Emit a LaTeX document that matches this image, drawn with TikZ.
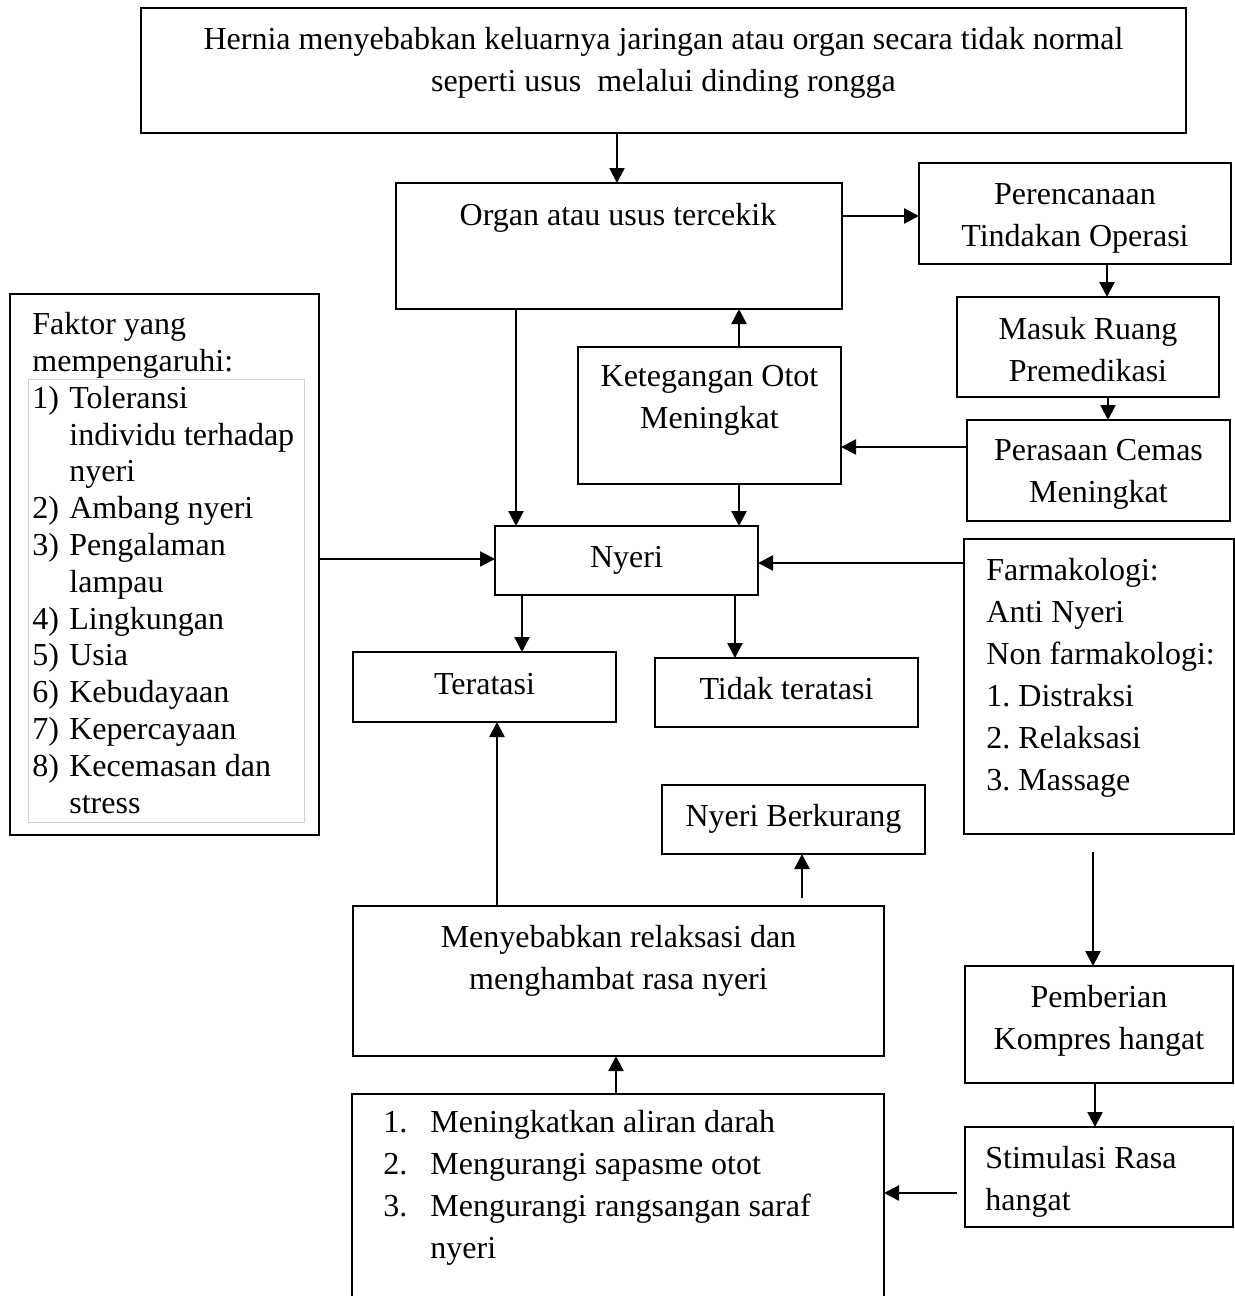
\documentclass[tikz,border=0pt]{standalone}
\usepackage{fontspec}
\setmainfont{Liberation Serif}
\usetikzlibrary{arrows.meta}
\frenchspacing
\begin{document}
\begin{tikzpicture}[x=0.5pt,y=-0.5pt,
  box/.style={draw, line width=1.2pt, inner sep=0pt, outer sep=0pt},
  txt/.style={inner sep=0pt, font=\fontsize{16}{21}\selectfont},
  arr/.style={line width=1.2pt, -{Triangle[length=7.5pt,width=7.5pt]}},
  one/.style={text height=10.5pt, text depth=3.5pt}
]
\useasboundingbox (0,0) rectangle (1235,1296);
\fill[white] (0,0) rectangle (1235,1296);
\clip (0,0) rectangle (1235,1296);

% top
\node[box, minimum width=522.5pt, minimum height=62.5pt] (hernia) at (663.5,70.5) {};
\node[txt, anchor=north, align=center] (herniaT) at (663.5,27) {Hernia menyebabkan keluarnya jaringan atau organ secara tidak normal\\seperti usus\ \ melalui dinding rongga};

\node[box, minimum width=223pt, minimum height=63pt] (organ) at (619,246) {};
\node[txt, anchor=north] (organT) at (618,203) {Organ atau usus tercekik};

\node[box, minimum width=156pt, minimum height=50.5pt] (perenc) at (1075,213.5) {};
\node[txt, anchor=north, align=center] (perencT) at (1075,183) {Perencanaan\\Tindakan Operasi};

\node[box, minimum width=131pt, minimum height=50pt] (masuk) at (1088,347) {};
\node[txt, anchor=north, align=center] (masukT) at (1088,317) {Masuk Ruang\\Premedikasi};

\node[box, minimum width=131.5pt, minimum height=50.5pt] (peras) at (1098.5,470.5) {};
\node[txt, anchor=north, align=center] (perasT) at (1098.5,439) {Perasaan Cemas\\Meningkat};

\node[box, minimum width=131.5pt, minimum height=68.5pt] (keteg) at (709.5,415.5) {};
\node[txt, anchor=north, align=center] (ketegT) at (709.5,365) {Ketegangan Otot\\Meningkat};

\node[box, txt, one, minimum width=131.5pt, minimum height=34.5pt] (nyeri) at (626.5,560.5) {Nyeri};
\node[box, txt, one, minimum width=131.5pt, minimum height=35pt] (terat) at (484.5,687) {Teratasi};
\node[box, txt, one, minimum width=131.5pt, minimum height=34.5pt] (tidak) at (786.5,692.5) {Tidak teratasi};
\node[box, txt, one, minimum width=131.5pt, minimum height=34.5pt] (nberk) at (793.5,819.5) {Nyeri Berkurang};

\node[box, minimum width=265.5pt, minimum height=75pt] (menyeb) at (618.5,981) {};
\node[txt, anchor=north, align=center] (menyebT) at (618.5,925) {Menyebabkan relaksasi dan\\menghambat rasa nyeri};

\node[box, minimum width=266pt, minimum height=113pt] (efek) at (618,1207) {};
\node[txt, anchor=north west, align=left] (efekT) at (383,1110) {\makebox[23.5pt][l]{1.}Meningkatkan aliran darah\\\makebox[23.5pt][l]{2.}Mengurangi sapasme otot\\\makebox[23.5pt][l]{3.}Mengurangi rangsangan saraf\\\hspace*{23.5pt}nyeri};

% left factors
\node[box, minimum width=154.5pt, minimum height=270.5pt] (faktor) at (164.5,564.5) {};
\node[draw=black!18, line width=0.5pt, inner sep=0pt, minimum width=138pt, minimum height=221.5pt] (faktorin) at (166,600.5) {};
\node[txt, anchor=north west, align=left, font=\fontsize{16}{18.4}\selectfont] (faktorT) at (32,312) {Faktor yang\\mempengaruhi:\\\makebox[18.5pt][l]{1)}Toleransi\\\hspace*{18.5pt}individu terhadap\\\hspace*{18.5pt}nyeri\\\makebox[18.5pt][l]{2)}Ambang nyeri\\\makebox[18.5pt][l]{3)}Pengalaman\\\hspace*{18.5pt}lampau\\\makebox[18.5pt][l]{4)}Lingkungan\\\makebox[18.5pt][l]{5)}Usia\\\makebox[18.5pt][l]{6)}Kebudayaan\\\makebox[18.5pt][l]{7)}Kepercayaan\\\makebox[18.5pt][l]{8)}Kecemasan dan\\\hspace*{18.5pt}stress};

% right column
\node[box, minimum width=135pt, minimum height=147.5pt] (farm) at (1099,686.5) {};
\node[txt, anchor=north west, align=left] (farmT) at (986,558) {Farmakologi:\\Anti Nyeri\\Non farmakologi:\\1. Distraksi\\2. Relaksasi\\3. Massage};

\node[box, minimum width=134pt, minimum height=58.5pt] (pemb) at (1099,1024.5) {};
\node[txt, anchor=north, align=center] (pembT) at (1099,985) {Pemberian\\Kompres hangat};

\node[box, minimum width=134pt, minimum height=50pt] (stim) at (1099,1177) {};
\node[txt, anchor=north west, align=left] (stimT) at (985,1146) {Stimulasi Rasa\\hangat};

% connectors
\draw[arr] (617,0 |- hernia.south) -- (617,0 |- organ.north);
\draw[arr] (organ.east |- 0,216) -- (perenc.west |- 0,216);
\draw[arr] (1107,0 |- perenc.south) -- (1107,0 |- masuk.north);
\draw[arr] (1108,0 |- masuk.south) -- (1108,0 |- peras.north);
\draw[arr] (peras.west |- 0,447) -- (keteg.east |- 0,447);
\draw[arr] (739,0 |- keteg.north) -- (739,0 |- organ.south);
\draw[arr] (516,0 |- organ.south) -- (516,0 |- nyeri.north);
\draw[arr] (739,0 |- keteg.south) -- (739,0 |- nyeri.north);
\draw[arr] (faktor.east |- 0,559) -- (nyeri.west |- 0,559);
\draw[arr] (farm.west |- 0,563) -- (nyeri.east |- 0,563);
\draw[arr] (522,0 |- nyeri.south) -- (522,0 |- terat.north);
\draw[arr] (735,0 |- nyeri.south) -- (735,0 |- tidak.north);
\draw[arr] (497,0 |- menyeb.north) -- (497,0 |- terat.south);
\draw[arr, shorten <=4pt] (802,0 |- menyeb.north) -- (802,0 |- nberk.south);
\draw[arr, shorten <=9pt] (1093,0 |- farm.south) -- (1093,0 |- pemb.north);
\draw[arr] (1095,0 |- pemb.south) -- (1095,0 |- stim.north);
\draw[arr, shorten <=4pt] (stim.west |- 0,1193) -- (efek.east |- 0,1193);
\draw[arr] (616,0 |- efek.north) -- (616,0 |- menyeb.south);
\end{tikzpicture}
\end{document}
